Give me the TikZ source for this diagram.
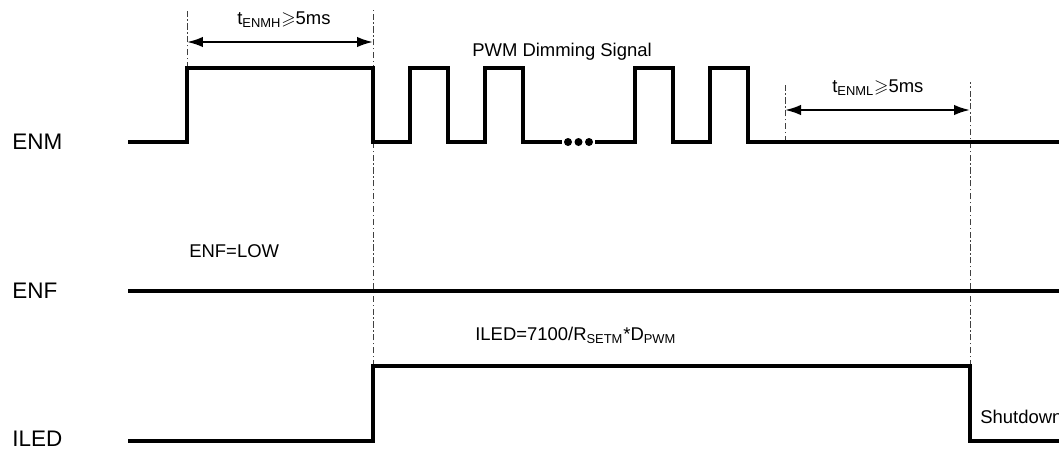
\documentclass[tikz,border=0pt]{standalone}
\usepackage{fontspec}
\usepackage{amssymb}
\setmainfont{Liberation Sans}
\usetikzlibrary{arrows.meta, positioning}
\tikzset{
  wave/.style={line width=2pt, line join=miter, line cap=rect, draw=black},
  guide/.style={line width=0.45pt, draw=black!75,
                dash pattern=on 3.5pt off 1.5pt on 0.8pt off 1.5pt},
  span/.style={{Latex[length=3.2mm, width=2.1mm]}-{Latex[length=3.2mm, width=2.1mm]},
               line width=1.2pt},
  siglabel/.style={font=\fontsize{12.8}{15}\selectfont, anchor=west, inner sep=0pt},
  note/.style={font=\fontsize{10.5}{12}\selectfont, inner sep=0pt},
  pdot/.style={circle, fill=black, inner sep=0pt, minimum size=1.6mm},
}
\def\enmhi{68}
\def\enmlo{142}
\def\enfy{291}
\def\ledhi{366}
\def\ledlo{441}
\def\xstart{130}
\def\xend{1059}

\begin{document}
\begin{tikzpicture}[x=0.02cm, y=-0.02cm]
\useasboundingbox (0,0) rectangle (1059,450);

% Signal names
\node[siglabel] (enm) at (12,\enmlo) {ENM};
\node[siglabel] (enf) at (12,\enfy) {ENF};
\node[siglabel] (iled) at (12,439) {ILED};

% Timing marks
\coordinate (t0) at (187,\enmhi);
\coordinate (t1) at (373,\enmlo);
\coordinate (t2) at (785,\enmlo);
\coordinate (t3) at (970,\enmlo);
\draw[guide] (t0) -- (187,10);
\draw[guide] (373,\ledhi) -- (373,10);
\draw[guide] (t2) -- (785,82);
\draw[guide] (970,\ledhi) -- (970,82);

% ENM
\draw[wave] (\xstart,\enmlo) -| (t0) -| (t1) -| (410,\enmhi) -| (448,\enmlo)
  -| (485,\enmhi) -| (523,\enmlo) -- (560,\enmlo);
\foreach \x [count=\i] in {568,578.5,589} {
  \node[pdot] (dot\i) at (\x,\enmlo) {};
}
\draw[wave] (597,\enmlo) -| (635,\enmhi) -| (673,\enmlo) -| (710,\enmhi)
  -| (748,\enmlo) -- (\xend,\enmlo);

% ENF
\draw[wave] (\xstart,\enfy) -- (\xend,\enfy);

% ILED
\draw[wave] (\xstart,\ledlo) -| (373,\ledhi) -| (970,\ledlo) -- (\xend,\ledlo);

% Durations
\coordinate (a0) at (187,42);
\coordinate (a1) at (373,42);
\coordinate (b0) at (785,110);
\coordinate (b1) at (970,110);
\draw[span] (a0) -- (a1);
\draw[span] (b0) -- (b1);
\node[note, anchor=west] (tenmh) at (237,20) {t\textsubscript{ENMH}$\geqslant$5ms};
\node[note, anchor=west] (tenml) at (832,88) {t\textsubscript{ENML}$\geqslant$5ms};

% Notes
\node[note, anchor=west] (pwm) at (472,52) {PWM Dimming Signal};
\node[note, anchor=west] (enflow) at (189,251) {ENF=LOW};
\node[note, anchor=west] (ledeq) at (475,335) {ILED=7100/R\textsubscript{SETM}*D\textsubscript{PWM}};
\node[note, anchor=west] (shdn) at (980,417) {Shutdown};

\end{tikzpicture}
\end{document}
